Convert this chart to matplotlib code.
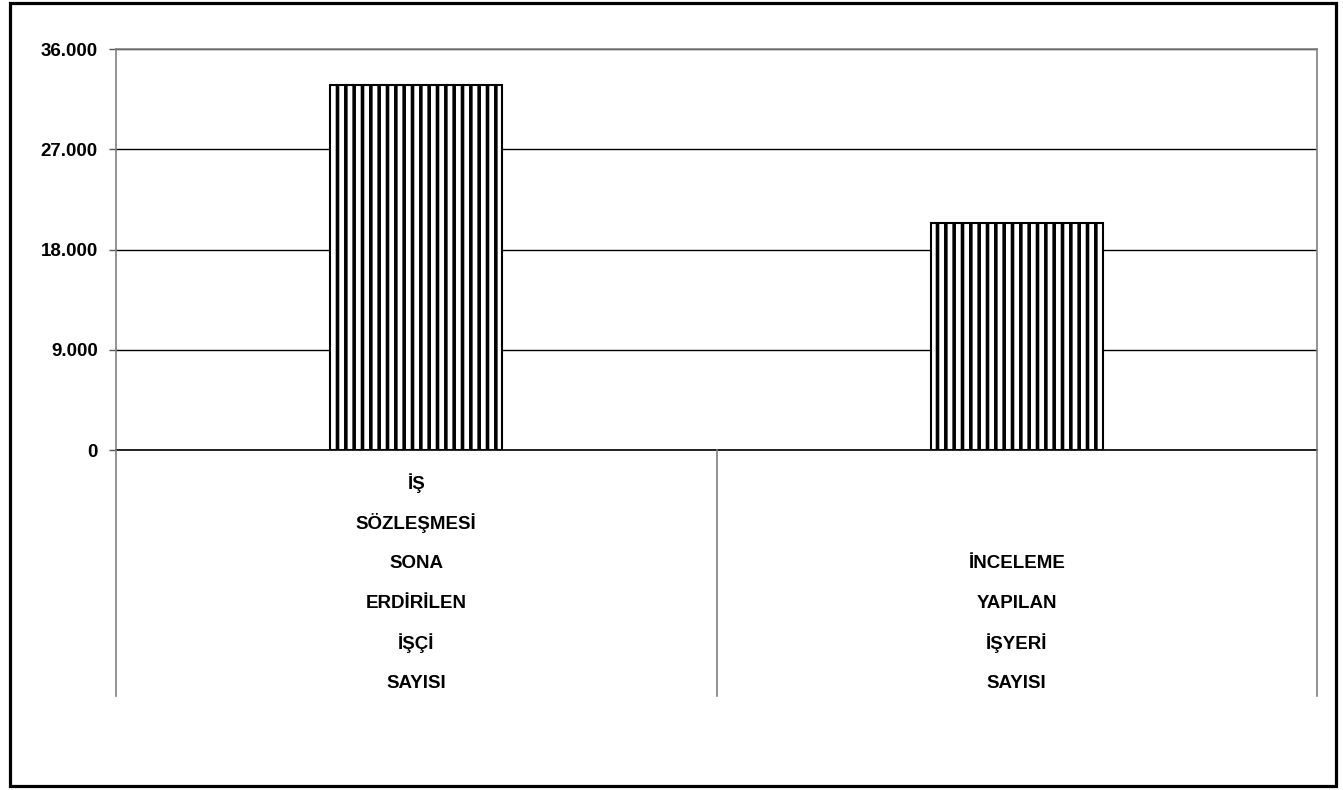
import numpy as np
import matplotlib
matplotlib.use('Agg')
import matplotlib.pyplot as plt
from matplotlib.patches import Rectangle
from matplotlib.ticker import FuncFormatter

plt.rcParams['font.family'] = ['Liberation Sans', 'DejaVu Sans']
plt.rcParams['hatch.linewidth'] = 2.6

# data
categories = [
    ['İŞ', 'SÖZLEŞMESİ', 'SONA', 'ERDİRİLEN', 'İŞÇİ', 'SAYISI'],
    ['İNCELEME', 'YAPILAN', 'İŞYERİ', 'SAYISI'],
]
values = [32770, 20400]
yticks = [0, 9000, 18000, 27000, 36000]

W, H = 1343, 790
fig = plt.figure(figsize=(W / 100, H / 100), dpi=100)
fig.patch.set_facecolor('white')

# outer frame
fig.add_artist(Rectangle((10 / W, 1 - 786 / H), 1326 / W, 783 / H,
                         transform=fig.transFigure, fill=False,
                         edgecolor='black', linewidth=2.3))

left, right, top, bottom = 116, 1317, 49, 450
ax = fig.add_axes([left / W, 1 - bottom / H, (right - left) / W, (bottom - top) / H])

x = np.arange(len(values))
bars = ax.bar(x, values, width=0.286, color='white', edgecolor='black',
              hatch='||', linewidth=1.5, zorder=3)

ax.set_xlim(-0.5, len(values) - 0.5)
ax.set_ylim(0, 36000)
ax.set_yticks(yticks)
ax.yaxis.set_major_formatter(FuncFormatter(lambda v, p: f'{int(v):,}'.replace(',', '.')))
ax.tick_params(axis='y', direction='out', length=5, width=1, color='#555555',
               labelsize=13.5, pad=8)
for lab in ax.get_yticklabels():
    lab.set_fontweight('bold')
ax.set_xticks([])
ax.grid(axis='y', color='black', linewidth=1, zorder=0)

for s in ['top', 'right', 'left']:
    ax.spines[s].set_color('#808080')
    ax.spines[s].set_linewidth(1.2)
ax.spines['bottom'].set_color('black')
ax.spines['bottom'].set_linewidth(1.2)
ax.spines['bottom'].set_zorder(4)

# category separators below the axis
sep_bottom = 696
for xp in [left, (left + right) / 2, right]:
    fig.add_artist(plt.Line2D([xp / W, xp / W], [1 - bottom / H, 1 - sep_bottom / H],
                              transform=fig.transFigure, color='#808080', linewidth=1.2))

# category labels, bottom aligned, one word per line
last_line = 683
step = 40
for i, words in enumerate(categories):
    n = len(words)
    for j, w in enumerate(words):
        yp = last_line - step * (n - 1 - j)
        fig.text((left + (right - left) * (i + 0.5) / len(categories)) / W, 1 - yp / H, w,
                 ha='center', va='center', fontsize=13.5, fontweight='bold')

fig.savefig('out.png', dpi=100, facecolor='white')
